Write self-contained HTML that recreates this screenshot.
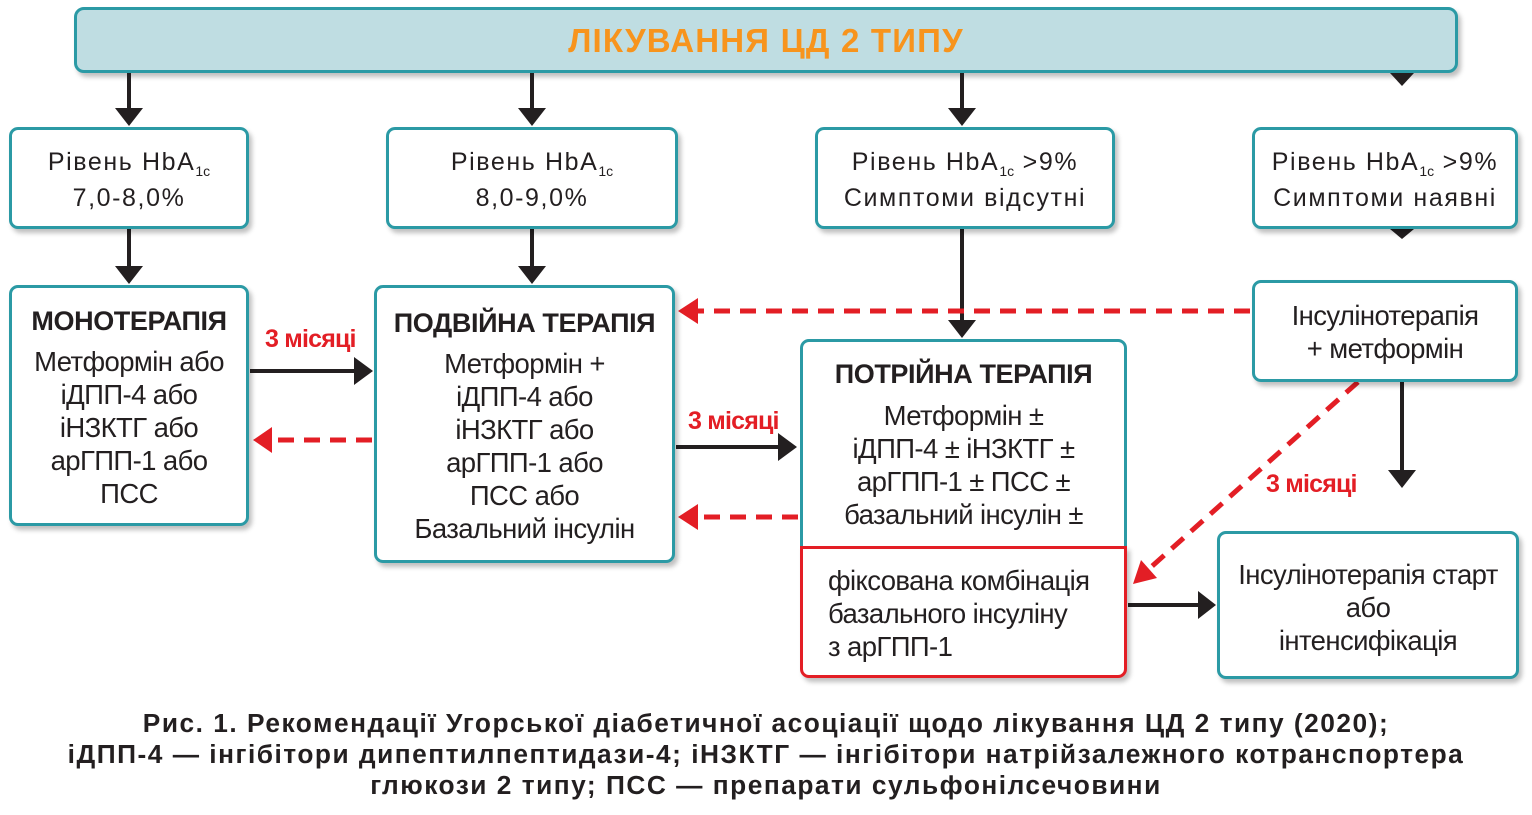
<!DOCTYPE html>
<html><head><meta charset="utf-8"><style>
body{margin:0;width:1532px;height:815px;background:#fff;position:relative;overflow:hidden;font-family:"Liberation Sans","DejaVu Sans",sans-serif;color:#231f20}
.b{position:absolute;box-sizing:border-box;border:3px solid #2b9aa5;border-radius:9px;background:#fff;box-shadow:3px 4px 5px rgba(0,0,0,.25)}
.t{position:absolute;left:0;right:0;text-align:center;white-space:nowrap}
.lv{font-size:25px;letter-spacing:1.6px;line-height:36px}
.tx{font-size:27.5px;letter-spacing:-0.6px;line-height:33px}
.h{font-weight:bold;font-size:27px;letter-spacing:-0.4px}
sub{font-size:14px;vertical-align:-6px;letter-spacing:0;line-height:0}
.m{position:absolute;color:#e31e25;font-weight:bold;font-size:25px;letter-spacing:-0.8px;white-space:nowrap}
.cap{position:absolute;left:0;width:1532px;text-align:center;font-weight:bold;font-size:26.3px;letter-spacing:1.5px;line-height:31px;top:708px;color:#231f20}
</style></head><body>
<div class="b" style="left:74px;top:7px;width:1384px;height:66px;background:#bfdde2;border-radius:10px"><div class="t" style="top:12px;font-size:33px;font-weight:bold;color:#f7941d;letter-spacing:1.2px">ЛІКУВАННЯ ЦД 2 ТИПУ</div></div>

<svg width="1532" height="815" style="position:absolute;left:0;top:0" >
<g fill="#231f20" stroke="#231f20" stroke-width="4">
<line x1="129" y1="73" x2="129" y2="110"/><polygon points="115,108 143,108 129,126" stroke="none"/>
<line x1="532" y1="73" x2="532" y2="110"/><polygon points="518,108 546,108 532,126" stroke="none"/>
<line x1="962" y1="73" x2="962" y2="110"/><polygon points="948,108 976,108 962,126" stroke="none"/>
<polygon points="1390,73 1414,73 1402,86" stroke="none"/>
<line x1="129" y1="229" x2="129" y2="268"/><polygon points="115,266 143,266 129,284" stroke="none"/>
<line x1="532" y1="229" x2="532" y2="268"/><polygon points="518,266 546,266 532,284" stroke="none"/>
<line x1="962" y1="229" x2="962" y2="322"/><polygon points="948,320 976,320 962,338" stroke="none"/>
<polygon points="1390,229 1414,229 1402,239" stroke="none"/>
<line x1="250" y1="371" x2="356" y2="371"/><polygon points="354,357 354,385 373,371" stroke="none"/>
<line x1="676" y1="447" x2="780" y2="447"/><polygon points="778,433 778,461 797,447" stroke="none"/>
<line x1="1128" y1="605" x2="1200" y2="605"/><polygon points="1198,591 1198,619 1216,605" stroke="none"/>
<line x1="1402" y1="382" x2="1402" y2="472"/><polygon points="1388,470 1416,470 1402,488" stroke="none"/>
</g>
<g fill="#e31e25" stroke="#e31e25" stroke-width="5" stroke-dasharray="16,10">
<line x1="372" y1="440" x2="272" y2="440"/><polygon points="272,427 272,453 253,440" stroke="none"/>
<line x1="1250" y1="311" x2="698" y2="311"/><polygon points="698,298 698,324 678,311" stroke="none"/>
<line x1="798" y1="517" x2="698" y2="517"/><polygon points="698,504 698,530 678,517" stroke="none"/>
<line x1="1358" y1="382" x2="1150" y2="568"/><polygon points="1133,584 1141,560 1157,578" stroke="none"/>
</g>
</svg>

<div class="b" style="left:9px;top:127px;width:240px;height:102px"><div class="t lv" style="top:14px">Рівень HbA<sub>1c</sub><br>7,0-8,0%</div></div>
<div class="b" style="left:386px;top:127px;width:292px;height:102px"><div class="t lv" style="top:14px">Рівень HbA<sub>1c</sub><br>8,0-9,0%</div></div>
<div class="b" style="left:815px;top:127px;width:300px;height:102px"><div class="t lv" style="top:14px">Рівень HbA<sub>1c</sub> &gt;9%<br>Симптоми відсутні</div></div>
<div class="b" style="left:1252px;top:127px;width:266px;height:102px"><div class="t lv" style="top:14px">Рівень HbA<sub>1c</sub> &gt;9%<br>Симптоми наявні</div></div>

<div class="b" style="left:9px;top:285px;width:240px;height:241px"><div class="t h" style="top:18px">МОНОТЕРАПІЯ</div><div class="t tx" style="top:57px">Метформін або<br>іДПП-4 або<br>іНЗКТГ або<br>арГПП-1 або<br>ПСС</div></div>
<div class="b" style="left:374px;top:285px;width:301px;height:278px"><div class="t h" style="top:20px">ПОДВІЙНА ТЕРАПІЯ</div><div class="t tx" style="top:59px">Метформін +<br>іДПП-4 або<br>іНЗКТГ або<br>арГПП-1 або<br>ПСС або<br>Базальний інсулін</div></div>
<div class="b" style="left:800px;top:339px;width:327px;height:216px;border-radius:9px 9px 0 0;box-shadow:none"><div class="t h" style="top:17px">ПОТРІЙНА ТЕРАПІЯ</div><div class="t tx" style="top:57px">Метформін ±<br>іДПП-4 ± іНЗКТГ ±<br>арГПП-1 ± ПСС ±<br>базальний інсулін ±</div></div>
<div class="b" style="left:800px;top:546px;width:327px;height:132px;border-color:#e31e25;border-radius:0 0 9px 9px"><div class="tx" style="position:absolute;left:25px;top:15px;white-space:nowrap">фіксована комбінація<br>базального інсуліну<br>з арГПП-1</div></div>
<div class="b" style="left:1252px;top:280px;width:266px;height:102px"><div class="t tx" style="top:16px">Інсулінотерапія<br>+ метформін</div></div>
<div class="b" style="left:1217px;top:531px;width:302px;height:148px"><div class="t tx" style="top:24px">Інсулінотерапія старт<br>або<br>інтенсифікація</div></div>

<div class="m" style="left:265px;top:325px">3 місяці</div>
<div class="m" style="left:688px;top:407px">3 місяці</div>
<div class="m" style="left:1266px;top:470px">3 місяці</div>

<div class="cap">Рис. 1. Рекомендації Угорської діабетичної асоціації щодо лікування ЦД 2 типу (2020);<br>іДПП-4 — інгібітори дипептилпептидази-4; іНЗКТГ — інгібітори натрійзалежного котранспортера<br>глюкози 2 типу; ПСС — препарати сульфонілсечовини</div>
</body></html>
